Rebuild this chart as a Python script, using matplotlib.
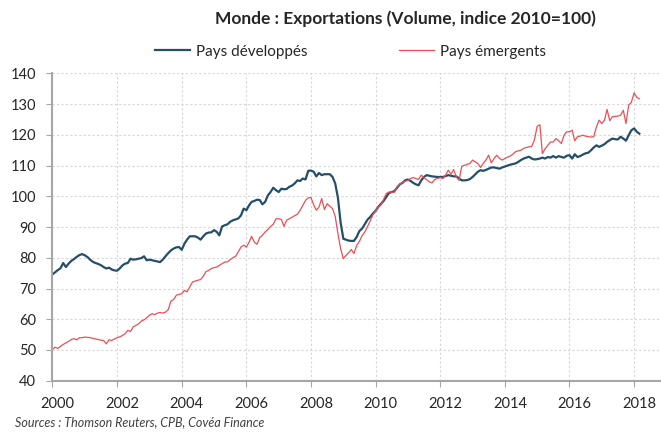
import matplotlib
matplotlib.use('Agg')
import matplotlib.pyplot as plt
import matplotlib.dates as mdates
import matplotlib.transforms as mtransforms
import pandas as pd
from datetime import date

# monthly index values, Jan 2000 -> Mar 2018
developpes = [
    74.6, 75.3, 76.0, 76.6, 78.3, 77.0, 78.1, 79.0, 79.6, 80.3, 80.9, 81.2,  # 2000
    80.8, 80.2, 79.4, 78.7, 78.3, 78.0, 77.6, 77.0, 76.5, 76.8, 76.2, 75.9,  # 2001
    75.8, 76.6, 77.5, 78.1, 78.3, 79.7, 79.4, 79.5, 79.7, 79.9, 80.5, 79.2,  # 2002
    79.4, 79.2, 79.0, 78.8, 78.6, 79.4, 80.5, 81.5, 82.4, 83.0, 83.4, 83.5,  # 2003
    82.6, 84.6, 85.9, 87.0, 87.0, 87.0, 86.6, 85.9, 87.0, 87.9, 88.2, 88.3,  # 2004
    89.0, 88.4, 87.3, 90.2, 90.6, 90.9, 91.7, 92.2, 92.5, 92.8, 93.8, 96.0,  # 2005
    95.5, 97.1, 98.2, 98.5, 98.9, 98.8, 97.4, 98.2, 100.3, 101.4, 102.8, 102.0,  # 2006
    101.4, 102.5, 102.3, 102.4, 103.1, 103.5, 104.2, 105.2, 105.0, 105.8, 105.5, 108.3,  # 2007
    108.4, 108.0, 106.5, 107.6, 106.9, 107.2, 107.2, 107.2, 106.3, 104.2, 99.5, 91.5,  # 2008
    86.2, 85.9, 85.6, 85.5, 85.5, 86.8, 88.7, 89.5, 91.0, 92.4, 93.3, 94.4,  # 2009
    95.3, 96.6, 97.5, 98.5, 99.8, 101.1, 101.4, 101.7, 102.8, 103.9, 104.4, 105.2,  # 2010
    105.5, 105.0, 104.4, 103.9, 103.6, 105.2, 106.3, 106.9, 106.7, 106.5, 106.4, 106.3,  # 2011
    106.3, 106.3, 106.6, 106.9, 106.7, 106.5, 106.5, 105.8, 105.2, 105.2, 105.3, 105.6,  # 2012
    106.3, 107.2, 108.0, 108.5, 108.3, 108.6, 109.0, 109.4, 109.4, 109.2, 109.0, 109.4,  # 2013
    109.7, 110.0, 110.3, 110.5, 110.7, 111.2, 111.8, 112.3, 112.6, 112.9, 112.3, 112.0,  # 2014
    112.1, 112.3, 112.6, 112.3, 112.8, 112.6, 113.1, 112.6, 113.1, 112.8, 112.6, 113.2,  # 2015
    113.4, 112.3, 113.7, 112.8, 113.1, 113.6, 114.0, 114.2, 115.0, 115.9, 116.6, 116.1,  # 2016
    116.5, 117.0, 117.7, 118.3, 118.8, 118.6, 118.5, 119.4, 118.8, 118.1, 119.9, 121.5,  # 2017
    122.1, 121.0, 120.4,  # 2018
]

emergents = [
    50.2, 50.9, 50.5, 51.2, 51.8, 52.3, 52.8, 53.4, 53.7, 53.3, 54.0, 54.0,  # 2000
    54.2, 54.1, 54.0, 53.8, 53.6, 53.4, 53.2, 53.1, 52.0, 53.3, 53.1, 53.6,  # 2001
    54.0, 54.3, 54.7, 55.3, 56.4, 56.0, 57.5, 58.0, 58.5, 59.4, 59.8, 60.5,  # 2002
    61.3, 61.8, 61.5, 62.0, 62.2, 62.0, 62.3, 63.1, 65.9, 66.4, 67.8, 68.1,  # 2003
    68.3, 69.4, 68.9, 70.5, 72.1, 72.4, 72.7, 72.9, 74.0, 75.5, 75.9, 76.5,  # 2004
    76.8, 77.0, 77.5, 78.1, 78.6, 78.7, 79.4, 80.0, 80.5, 81.9, 83.5, 84.1,  # 2005
    83.5, 85.1, 87.0, 85.1, 84.4, 86.6, 87.3, 88.4, 89.2, 90.2, 90.9, 92.7,  # 2006
    92.7, 92.5, 90.2, 92.2, 92.7, 93.2, 93.7, 94.2, 95.5, 97.1, 98.7, 99.5,  # 2007
    99.6, 97.2, 95.5, 96.5, 99.3, 95.7, 97.6, 96.8, 96.0, 93.5, 87.8, 83.0,  # 2008
    79.7, 80.8, 81.6, 82.7, 81.4, 84.0, 85.3, 87.2, 88.4, 90.2, 92.0, 94.0,  # 2009
    95.2, 96.6, 97.1, 99.0, 100.9, 101.4, 101.4, 101.3, 103.1, 104.0, 104.5, 104.9,  # 2010
    105.2, 105.8, 106.1, 105.8, 105.5, 106.9, 106.1, 105.4, 104.7, 104.4, 105.5, 105.8,  # 2011
    106.1, 105.8, 106.9, 108.5, 107.2, 108.7, 106.3, 105.2, 109.8, 110.1, 110.4, 110.7,  # 2012
    111.8, 111.2, 110.7, 109.4, 110.7, 111.8, 113.4, 110.9, 112.3, 113.4, 112.4, 111.8,  # 2013
    112.3, 112.8, 113.1, 113.7, 114.5, 114.8, 115.0, 115.6, 115.9, 116.1, 116.3, 118.3,  # 2014
    122.8, 123.3, 113.9, 115.5, 116.6, 117.7, 117.7, 118.8, 118.1, 117.2, 119.9, 121.0,  # 2015
    121.0, 121.5, 118.1, 119.4, 119.6, 119.9, 119.6, 119.4, 119.3, 119.4, 122.6, 124.8,  # 2016
    123.7, 124.8, 128.3, 124.6, 125.9, 126.0, 126.1, 126.4, 128.0, 123.7, 129.7, 130.6,  # 2017
    133.7, 132.2, 131.8,  # 2018
]

dates = pd.date_range('2000-01-01', periods=len(developpes), freq='MS')
years = list(range(2000, 2019, 2))

plt.rcParams['font.family'] = ['Lato', 'DejaVu Sans']

fig = plt.figure(figsize=(6.61, 4.34), dpi=100)
ax = fig.add_axes([0.0794, 0.1228, 0.919, 0.708])

ax.plot(dates, developpes, color='#254F68', lw=1.6, label='Pays développés')
ax.plot(dates, emergents, color='#EE4E54', lw=0.9, label='Pays émergents')

ax.set_ylim(40, 140)
ax.set_yticks(range(40, 141, 10))
ax.set_xlim(date(2000, 1, 1), date(2018, 10, 20))
ax.set_xticks([date(y, 1, 1) for y in years])
ax.set_xticklabels([str(y) for y in years])

ax.grid(True, color='#D6D6D6', linestyle=(0, (2, 2)), lw=0.8)
ax.set_axisbelow(True)
for s in ['top', 'right']:
    ax.spines[s].set_visible(False)
for s in ['left', 'bottom']:
    ax.spines[s].set_color('#A6A6A6')
    ax.spines[s].set_linewidth(1.5)
ax.tick_params(length=4, color='#A6A6A6', labelsize=10.5, labelcolor='#262626', pad=8)

# Excel-style: year labels sit slightly right of their tick
shift = mtransforms.ScaledTranslation(5 / 100, 0, fig.dpi_scale_trans)
for lab in ax.get_xticklabels():
    lab.set_transform(lab.get_transform() + shift)

fig.text(0.614, 0.957, 'Monde : Exportations (Volume, indice 2010=100)',
         ha='center', va='center', fontsize=12.5, fontweight='bold', color='#262626')
fig.legend(loc='center', bbox_to_anchor=(0.530, 0.881), ncol=2, frameon=False,
           handlelength=2.3, handletextpad=0.37, columnspacing=6, fontsize=11,
           labelcolor='#262626')
fig.text(0.022, 0.028, 'Sources : Thomson Reuters, CPB, Covéa Finance',
         style='italic', fontsize=9, color='#404040', va='center')

fig.savefig('out.png', dpi=100)
